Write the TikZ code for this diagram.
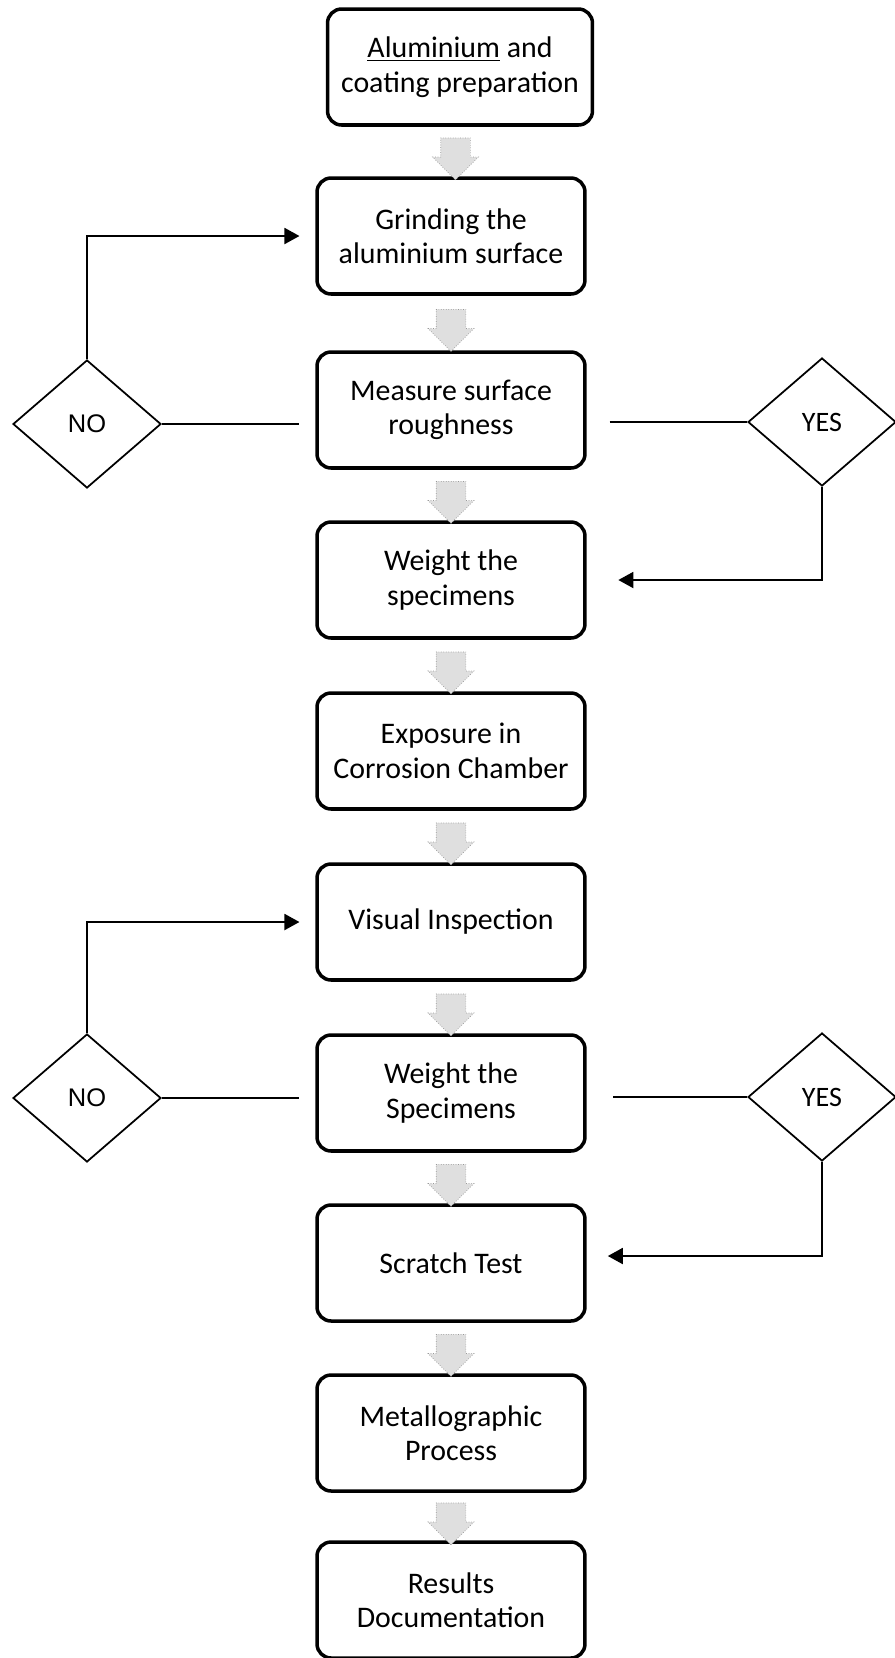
\documentclass[tikz,border=0pt]{standalone}
\usepackage{fontspec}
\setmainfont{Carlito}
\newfontfamily\arialfont{Liberation Sans}
\usetikzlibrary{shapes.geometric, shapes.arrows, arrows.meta, positioning, calc}

\tikzset{
  stepbox/.style={draw, line width=2pt, rounded corners=8pt, minimum width=5.36cm, minimum height=2.32cm, align=center, inner sep=2pt, font=\fontsize{17}{19.6}\selectfont},
  decision/.style={draw, diamond, line width=1pt, minimum width=2.96cm, minimum height=2.56cm, inner sep=0pt, font=\fontsize{16}{18}\selectfont},
  link/.style={line width=1.1pt},
  linkarrow/.style={link, -{Triangle[length=0.3cm, width=0.32cm]}},
  downarrow/.style={single arrow, draw=gray!80, densely dotted, fill=gray!25, rotate=-90, minimum height=0.84cm, inner xsep=0pt, inner ysep=0.29cm, single arrow head extend=0.16cm}
}

\begin{document}
\begin{tikzpicture}[x=0.02cm, y=-0.02cm]
  \useasboundingbox (0,0) rectangle (895,1658);

  % main steps
  \node[stepbox, minimum width=5.3cm] (prep) at (460,67) {\underline{Aluminium} and\\coating preparation};
  \node[stepbox] (grind) at (451,236) {Grinding the\\aluminium surface};
  \node[stepbox] (measure) at (451,410) {Measure surface\\roughness};
  \node[stepbox] (weigh) at (451,580) {Weight the\\specimens};
  \node[stepbox] (expose) at (451,751) {Exposure in\\Corrosion Chamber};
  \node[stepbox] (visual) at (451,922) {Visual Inspection};
  \node[stepbox] (reweigh) at (451,1093) {Weight the\\Specimens};
  \node[stepbox] (scratch) at (451,1263) {Scratch Test};
  \node[stepbox] (metallo) at (451,1433) {Metallographic\\Process};
  \node[stepbox] (results) at (451,1600) {Results\\Documentation};

  % block arrows between steps
  \foreach \a/\b in {prep/grind, grind/measure, measure/weigh, weigh/expose, expose/visual, visual/reweigh, reweigh/scratch, scratch/metallo, metallo/results}
    \node[downarrow] (\a-\b) at ($(\a.south)!0.5!(\b.north)$) {};

  % roughness check
  \node[decision, font=\arialfont\fontsize{14.5}{17}\selectfont] (no1) at (87,424) {NO};
  \node[decision] (yes1) at (822,422) {YES};
  \draw[link, shorten >=9] (no1.east) -- (no1.east -| measure.west);
  \draw[linkarrow, shorten >=9] (no1.north) |- (grind.west);
  \draw[link, shorten <=13] (yes1.west -| measure.east) -- (yes1.west);
  \draw[linkarrow, shorten >=18] (yes1.south) |- (weigh.east);

  % weight check
  \node[decision, font=\arialfont\fontsize{14.5}{17}\selectfont] (no2) at (87,1098) {NO};
  \node[decision] (yes2) at (822,1097) {YES};
  \draw[link, shorten >=9] (no2.east) -- (no2.east -| reweigh.west);
  \draw[linkarrow, shorten >=9] (no2.north) |- (visual.west);
  \draw[link, shorten <=15] (yes2.west -| reweigh.east) -- (yes2.west);
  \draw[linkarrow, shorten >=12] (yes2.south) |- ($(scratch.east)+(0,-7)$);
\end{tikzpicture}
\end{document}
